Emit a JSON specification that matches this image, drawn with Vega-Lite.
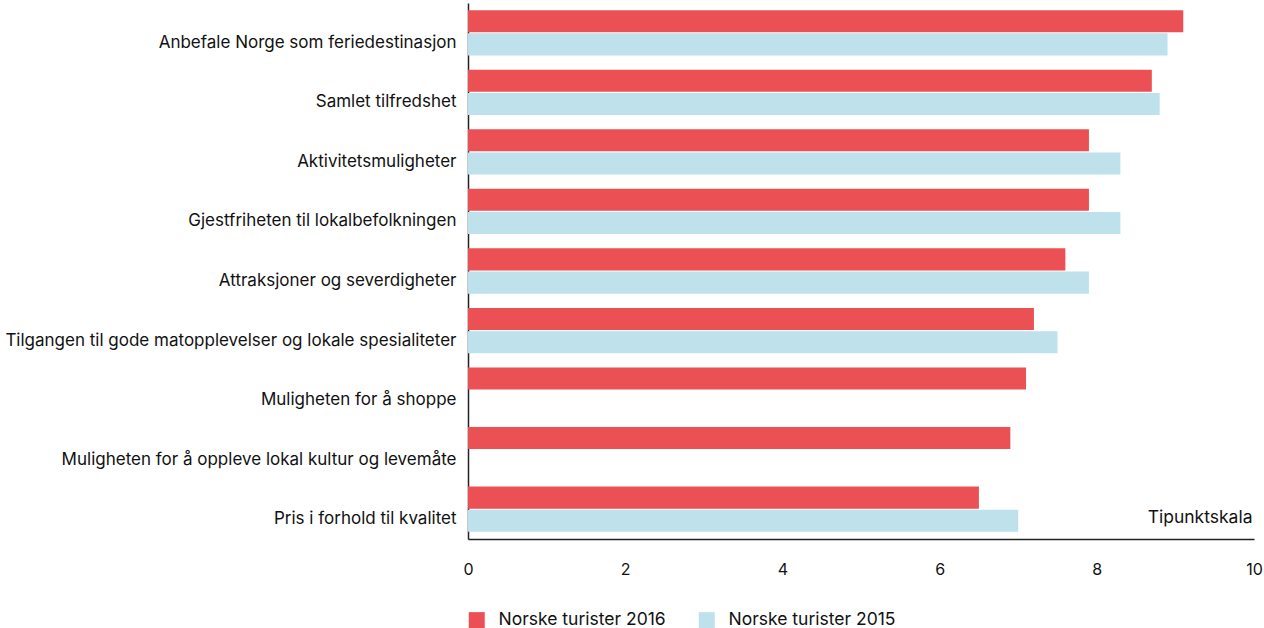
{
  "$schema": "https://vega.github.io/schema/vega-lite/v6.json",
  "width": 786,
  "height": 536,
  "autosize": {"type": "none"},
  "padding": {"left": 468, "top": 3, "right": 10, "bottom": 89},
  "background": "white",
  "config": {
    "view": {"stroke": null},
    "font": "Inter",
    "axis": {"labelFont": "Inter", "titleFont": "Inter"},
    "legend": {"labelFont": "Inter"}
  },
  "data": {
    "values": [
      {"kategori": "Anbefale Norge som feriedestinasjon", "serie": "Norske turister 2016", "verdi": 9.1},
      {"kategori": "Anbefale Norge som feriedestinasjon", "serie": "Norske turister 2015", "verdi": 8.9},
      {"kategori": "Samlet tilfredshet", "serie": "Norske turister 2016", "verdi": 8.7},
      {"kategori": "Samlet tilfredshet", "serie": "Norske turister 2015", "verdi": 8.8},
      {"kategori": "Aktivitetsmuligheter", "serie": "Norske turister 2016", "verdi": 7.9},
      {"kategori": "Aktivitetsmuligheter", "serie": "Norske turister 2015", "verdi": 8.3},
      {"kategori": "Gjestfriheten til lokalbefolkningen", "serie": "Norske turister 2016", "verdi": 7.9},
      {"kategori": "Gjestfriheten til lokalbefolkningen", "serie": "Norske turister 2015", "verdi": 8.3},
      {"kategori": "Attraksjoner og severdigheter", "serie": "Norske turister 2016", "verdi": 7.6},
      {"kategori": "Attraksjoner og severdigheter", "serie": "Norske turister 2015", "verdi": 7.9},
      {"kategori": "Tilgangen til gode matopplevelser og lokale spesialiteter", "serie": "Norske turister 2016", "verdi": 7.2},
      {"kategori": "Tilgangen til gode matopplevelser og lokale spesialiteter", "serie": "Norske turister 2015", "verdi": 7.5},
      {"kategori": "Muligheten for å shoppe", "serie": "Norske turister 2016", "verdi": 7.1},
      {"kategori": "Muligheten for å oppleve lokal kultur og levemåte", "serie": "Norske turister 2016", "verdi": 6.9},
      {"kategori": "Pris i forhold til kvalitet", "serie": "Norske turister 2016", "verdi": 6.5},
      {"kategori": "Pris i forhold til kvalitet", "serie": "Norske turister 2015", "verdi": 7.0}
    ]
  },
  "mark": {"type": "bar"},
  "encoding": {
    "y": {
      "field": "kategori",
      "type": "nominal",
      "sort": null,
      "scale": {"paddingInner": 0.24, "paddingOuter": 0.12},
      "axis": {
        "title": null,
        "domain": true,
        "domainColor": "#222222",
        "domainWidth": 1.5,
        "ticks": false,
        "labelPadding": 12,
        "labelFontSize": 17,
        "labelColor": "#111111",
        "labelOffset": 10,
        "labelLimit": 0
      }
    },
    "yOffset": {
      "field": "serie",
      "type": "nominal",
      "sort": ["Norske turister 2016", "Norske turister 2015"],
      "scale": {"paddingInner": 0.05}
    },
    "x": {
      "field": "verdi",
      "type": "quantitative",
      "scale": {"domain": [0, 10], "nice": false},
      "axis": {
        "values": [0, 2, 4, 6, 8, 10],
        "grid": false,
        "ticks": false,
        "domainColor": "#222222",
        "domainWidth": 1.5,
        "labelPadding": 22,
        "labelFontSize": 16,
        "labelColor": "#111111",
        "labelFlush": false,
        "title": "Tipunktskala",
        "titleFontSize": 17.5,
        "titleFontWeight": "normal",
        "titleColor": "#111111",
        "titleAnchor": "end",
        "titleAlign": "right",
        "titleX": 784,
        "titleY": -22,
        "titleBaseline": "middle"
      }
    },
    "color": {
      "field": "serie",
      "type": "nominal",
      "sort": ["Norske turister 2016", "Norske turister 2015"],
      "scale": {"domain": ["Norske turister 2016", "Norske turister 2015"], "range": ["#EB5055", "#BEE1EC"]},
      "legend": {
        "title": null,
        "orient": "none",
        "direction": "horizontal",
        "legendX": 0,
        "legendY": 608,
        "symbolType": "square",
        "symbolSize": 256,
        "symbolStrokeWidth": 0,
        "labelFontSize": 17.5,
        "labelLimit": 400,
        "labelColor": "#111111",
        "columnPadding": 32,
        "labelOffset": 13
      }
    }
  }
}
